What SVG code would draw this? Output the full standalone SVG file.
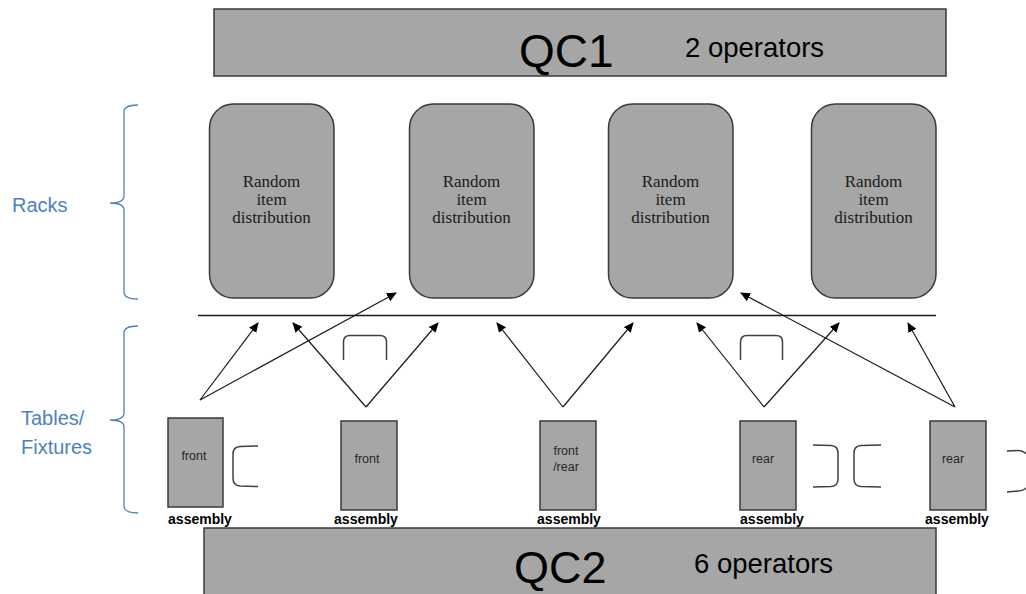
<svg xmlns="http://www.w3.org/2000/svg" width="1026" height="594" viewBox="0 0 1026 594">
<style>
.box{fill:#a6a6a6;stroke:#3a3a3a;stroke-width:1.5}
.qc{font-family:"Liberation Sans",Arial,sans-serif;fill:#000}
.rt{font-family:"Liberation Serif","Times New Roman",serif;font-size:17px;fill:#1a1a1a;text-anchor:middle}
.tt{font-family:"Liberation Sans",Arial,sans-serif;font-size:12.5px;fill:#262626;text-anchor:middle}
.asm{font-family:"Liberation Sans",Arial,sans-serif;font-size:14px;font-weight:bold;fill:#000;text-anchor:middle}
.lab{font-family:"Liberation Sans",Arial,sans-serif;font-size:20px;fill:#4f81bd}
.brace{fill:none;stroke:#4f81bd;stroke-width:1.3}
.brk{fill:none;stroke:#404040;stroke-width:1.5}
.arr{fill:none;stroke:#1a1a1a;stroke-width:1.2;marker-end:url(#ah)}
</style>
<defs>
<marker id="ah" markerWidth="10" markerHeight="10" refX="9" refY="5" orient="auto" markerUnits="userSpaceOnUse">
<path d="M0,0.5 L10,5 L0,9.5 Z" fill="#000"/>
</marker>
</defs>
<rect width="1026" height="594" fill="#fff"/>

<g id="qc1">
<rect class="box" x="214" y="9" width="732" height="67"/>
<text class="qc" x="519" y="67" font-size="46">QC1</text>
<text class="qc" x="685" y="57" font-size="27.5">2 operators</text>
</g>

<g id="qc2">
<rect class="box" x="204" y="528" width="732" height="80"/>
<text class="qc" x="514" y="583" font-size="45">QC2</text>
<text class="qc" x="694" y="573" font-size="27.5">6 operators</text>
</g>

<g id="label-racks">
<path class="brace" d="M138,105 Q124,105 124,112 L124,196 Q124,203 110,203 Q124,203 124,210 L124,292 Q124,299 138,299"/>
<text class="lab" x="12" y="212" font-size="19.5">Racks</text>
</g>
<g id="label-tables">
<path class="brace" d="M138,326 Q124,326 124,333 L124,413 Q124,420 110,420 Q124,420 124,427 L124,506 Q124,513 138,513"/>
<text class="lab" x="21" y="425">Tables/</text>
<text class="lab" x="21" y="454">Fixtures</text>
</g>

<g id="rack1">
<rect class="box" x="209.500" y="104" width="124.500" height="194" rx="24" ry="24"/>
<text class="rt" x="271.500" y="187">Random</text>
<text class="rt" x="271.500" y="205">item</text>
<text class="rt" x="271.500" y="223">distribution</text>
</g>
<g id="rack2">
<rect class="box" x="409.500" y="104" width="124.500" height="194" rx="24" ry="24"/>
<text class="rt" x="471.500" y="187">Random</text>
<text class="rt" x="471.500" y="205">item</text>
<text class="rt" x="471.500" y="223">distribution</text>
</g>
<g id="rack3">
<rect class="box" x="608.500" y="104" width="124.500" height="194" rx="24" ry="24"/>
<text class="rt" x="670.500" y="187">Random</text>
<text class="rt" x="670.500" y="205">item</text>
<text class="rt" x="670.500" y="223">distribution</text>
</g>
<g id="rack4">
<rect class="box" x="811.500" y="104" width="124.500" height="194" rx="24" ry="24"/>
<text class="rt" x="873.500" y="187">Random</text>
<text class="rt" x="873.500" y="205">item</text>
<text class="rt" x="873.500" y="223">distribution</text>
</g>

<g id="divider">
<line x1="198" y1="315.500" x2="936" y2="315.500" stroke="#1a1a1a" stroke-width="1.3"/>
</g>

<g id="table1">
<rect class="box" x="168" y="418" width="55" height="89"/>
<text class="tt" x="194" y="460">front</text>
<text class="asm" x="200" y="524">assembly</text>
</g>
<g id="table2">
<rect class="box" x="341" y="421" width="56" height="89"/>
<text class="tt" x="367" y="463">front</text>
<text class="asm" x="366" y="524">assembly</text>
</g>
<g id="table3">
<rect class="box" x="540" y="421" width="56" height="89"/>
<text class="tt" x="566" y="455">front</text>
<text class="tt" x="566" y="471">/rear</text>
<text class="asm" x="569" y="524">assembly</text>
</g>
<g id="table4">
<rect class="box" x="740" y="421" width="56" height="89"/>
<text class="tt" x="763" y="463">rear</text>
<text class="asm" x="772" y="524">assembly</text>
</g>
<g id="table5">
<rect class="box" x="930" y="421" width="56" height="89"/>
<text class="tt" x="953" y="463">rear</text>
<text class="asm" x="957" y="524">assembly</text>
</g>

<g id="brackets">
<path class="brk" d="M258,446 L240,446.500 Q233,447 233,454 L233,478 Q233,485.500 240,486 L258,486.500"/>
<path class="brk" d="M343.500,360 L343.500,342 Q343.500,335.500 350,335.500 L380,335.500 Q386.500,335.500 386.500,342 L386.500,360"/>
<path class="brk" d="M740.500,360 L740.500,342 Q740.500,335.500 747,335.500 L776,335.500 Q782.500,335.500 782.500,342 L782.500,360"/>
<path class="brk" d="M813,445 L831,445.500 Q838,446 838,453 L838,479 Q838,486 831,486.500 L813,487"/>
<path class="brk" d="M881,445 L861,445.500 Q854,446 854,453 L854,479 Q854,486 861,486.500 L881,487"/>
<path class="brk" d="M1007,451 L1018,450.500 Q1027,451 1030,460 L1030,482 Q1027,491 1018,491 L1007,492"/>
</g>

<g id="connectors">
<line class="arr" x1="200" y1="400" x2="258" y2="323"/>
<line class="arr" x1="200" y1="400" x2="396" y2="293"/>
<line class="arr" x1="366" y1="407" x2="293" y2="323"/>
<line class="arr" x1="366" y1="407" x2="438" y2="323"/>
<line class="arr" x1="563" y1="407" x2="497" y2="323"/>
<line class="arr" x1="563" y1="407" x2="633" y2="323"/>
<line class="arr" x1="764" y1="407" x2="697" y2="323"/>
<line class="arr" x1="764" y1="407" x2="839" y2="323"/>
<line class="arr" x1="955" y1="407" x2="908" y2="323"/>
<line class="arr" x1="955" y1="407" x2="741" y2="293"/>
</g>
</svg>
